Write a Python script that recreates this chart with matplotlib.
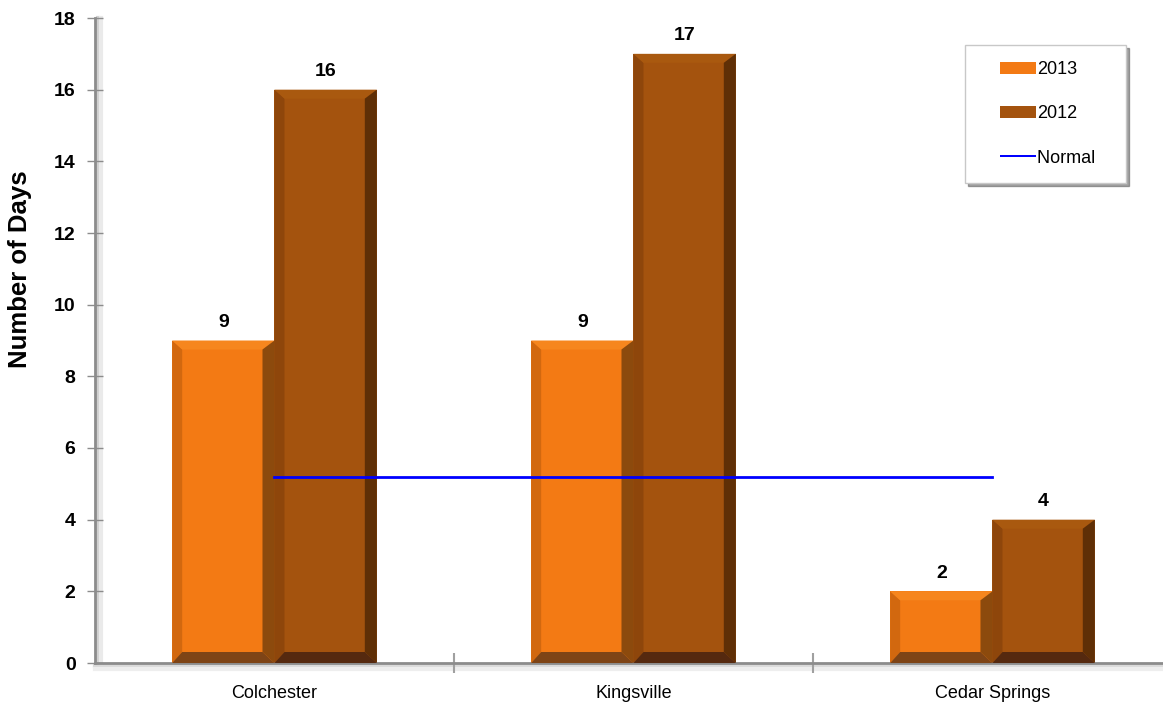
import matplotlib
matplotlib.use("Agg")
import matplotlib.pyplot as plt
from matplotlib.patches import Polygon, Patch, Rectangle
from matplotlib.legend_handler import HandlerPatch
import numpy as np

plt.rcParams['font.family'] = ['Liberation Sans', 'DejaVu Sans']

categories = ["Colchester", "Kingsville", "Cedar Springs"]
series_names = ["2013", "2012", "Normal"]
values_2013 = [9, 9, 2]
values_2012 = [16, 17, 4]
normal_value = 5.2
y_ticks = [0, 2, 4, 6, 8, 10, 12, 14, 16, 18]

# colours: face, left, top, right, bottom
col_2013 = dict(face='#F37A14', left='#D2680F', top='#F6861E', right='#8C4A0D', bottom='#7E4416')
col_2012 = dict(face='#A4530E', left='#8E460B', top='#A9590F', right='#5F2F06', bottom='#55290F')

fig = plt.figure(figsize=(11.63, 7.08), dpi=100)
ax = fig.add_axes([95/1163, 1-663/708, 1068/1163, 645/708])
ax.set_xlim(-0.5, 2.475)
ax.set_ylim(0, 18)

x = np.arange(len(categories))
w = 0.285

bars13 = ax.bar(x - w/2, values_2013, w, color=col_2013['face'], zorder=2)
bars12 = ax.bar(x + w/2, values_2012, w, color=col_2012['face'], zorder=2)

# bevel in pixels -> data
axw, axh = 1068, 645
dxu = (ax.get_xlim()[1]-ax.get_xlim()[0]) / axw
dyu = (ax.get_ylim()[1]-ax.get_ylim()[0]) / axh

def bevel(bar, c, lp=10, rp=12, tp=9, bp=11):
    x0 = bar.get_x(); x1 = x0 + bar.get_width()
    y0 = bar.get_y(); y1 = y0 + bar.get_height()
    l = lp*dxu; r = rp*dxu; t = tp*dyu; b = bp*dyu
    ix0, ix1, iy0, iy1 = x0+l, x1-r, y0+b, y1-t
    polys = [
        ([(x0, y0), (x0, y1), (ix0, iy1), (ix0, iy0)], c['left']),
        ([(x0, y1), (x1, y1), (ix1, iy1), (ix0, iy1)], c['top']),
        ([(x1, y1), (x1, y0), (ix1, iy0), (ix1, iy1)], c['right']),
        ([(x0, y0), (x1, y0), (ix1, iy0), (ix0, iy0)], c['bottom']),
    ]
    for pts, col in polys:
        ax.add_patch(Polygon(pts, closed=True, facecolor=col, edgecolor='none', zorder=3))

for b in bars13:
    bevel(b, col_2013)
for b in bars12:
    bevel(b, col_2012)

# value labels
for bars, vals in ((bars13, values_2013), (bars12, values_2012)):
    for b, v in zip(bars, vals):
        ax.annotate(str(v), (b.get_x()+b.get_width()/2, v), xytext=(0, 7),
                    textcoords='offset points', ha='center', va='bottom',
                    fontsize=14, fontweight='bold', color='black', zorder=5)

# normal line
ax.plot([x[0], x[-1]], [normal_value, normal_value], color='#0000FF', lw=2, zorder=4)

# axes styling
for s in ['top', 'right']:
    ax.spines[s].set_visible(False)
for s in ['left', 'bottom']:
    ax.spines[s].set_color('#8C8C8C')
    ax.spines[s].set_linewidth(2)
# shadow lines
ax.axhline(-3*dyu, color='#DADADA', lw=3, zorder=0, clip_on=False)
ax.axhline(-6*dyu, color='#EEEEEE', lw=3, zorder=0, clip_on=False)
ax.axvline(ax.get_xlim()[0]+3*dxu, color='#D0D0D0', lw=3, zorder=0, clip_on=False)
ax.axvline(ax.get_xlim()[0]+6*dxu, color='#EAEAEA', lw=3, zorder=0, clip_on=False)

ax.set_yticks(y_ticks)
ax.set_yticklabels([str(t) for t in y_ticks], fontsize=14, fontweight='bold')
ax.tick_params(axis='y', direction='inout', length=12, color='#8C8C8C', width=1, pad=8)

ax.set_xticks([0.5, 1.5])
ax.set_xticklabels([])
ax.set_xticks(x, minor=True)
ax.set_xticklabels(categories, minor=True, fontsize=13)
ax.tick_params(axis='x', which='major', direction='inout', length=14, color='#A0A0A0', width=1.5)
ax.tick_params(axis='x', which='minor', length=0, pad=16)

ax.set_ylabel("Number of Days", fontsize=18.5, fontweight='bold')
ax.yaxis.set_label_coords(-0.059, 0.611)

# legend
HW = 26  # handle width in points

def make_rect(c):
    def f(legend, orig_handle, xdescent, ydescent, width, height, fontsize):
        return Rectangle((-xdescent + width - HW, -ydescent), HW, height,
                         facecolor=c['face'], edgecolor=c['right'], lw=1.2)
    return f

def make_line(color):
    def f(legend, orig_handle, xdescent, ydescent, width, height, fontsize):
        return Rectangle((-xdescent + width - HW, -ydescent + height/2 - 0.8),
                         HW, 1.6, facecolor=color, edgecolor='none')
    return f

h13 = Patch(facecolor=col_2013['face'])
h12 = Patch(facecolor=col_2012['face'])
hn = Patch(facecolor='#0000FF')
leg = ax.legend([h13, h12, hn], [series_names[0], series_names[1], series_names[2] + "   "],
                loc='upper left',
                bbox_to_anchor=(0.815, 0.958), fontsize=13, labelspacing=1.5,
                handlelength=3.0, handleheight=0.62, handletextpad=0.05,
                borderpad=0.9, borderaxespad=0, fancybox=False, shadow=True,
                edgecolor='#C8C8C8', framealpha=1,
                handler_map={h13: HandlerPatch(patch_func=make_rect(col_2013)),
                             h12: HandlerPatch(patch_func=make_rect(col_2012)),
                             hn: HandlerPatch(patch_func=make_line('#0000FF'))})
leg.get_frame().set_linewidth(1)

fig.savefig("out.png", dpi=100)
